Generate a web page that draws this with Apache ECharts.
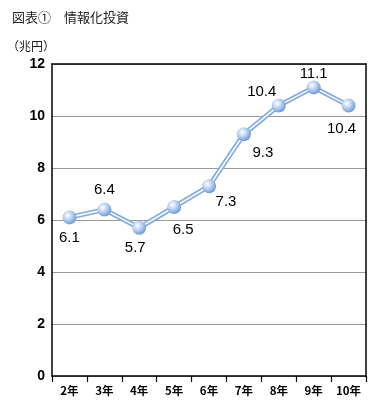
<!DOCTYPE html>
<html><head><meta charset="utf-8">
<script src="https://cdn.jsdelivr.net/npm/echarts@6/dist/echarts.min.js"></script>
<style>html,body{margin:0;padding:0;background:#fff}#c{width:386px;height:406px}</style>
</head><body><div id="c"></div>
<script>
var categories = ['2年','3年','4年','5年','6年','7年','8年','9年','10年'];
var values = [6.1, 6.4, 5.7, 6.5, 7.3, 9.3, 10.4, 11.1, 10.4];
var yTicks = [0, 2, 4, 6, 8, 10, 12];
var labelOffsets = [[0,20],[0,-20],[-4,20],[9,23],[17,16],[19,19],[-17,-14],[0,-14],[-7,23]];

var chart = echarts.init(document.getElementById('c'), null, {renderer:'canvas'});
var font = '"Liberation Sans", Arial, sans-serif';
var cjk = '"Noto Sans CJK JP", sans-serif';
chart.setOption({
  animation:false,
  backgroundColor:'#fff',
  title:[
    {text:'図表①　情報化投資', left:7, top:6, textStyle:{fontFamily:cjk, fontSize:13, fontWeight:'normal', color:'#222'}},
    {text:'（兆円）', left:2, top:35, textStyle:{fontFamily:cjk, fontSize:12, fontWeight:'normal', color:'#222'}}
  ],
  grid:{left:52, right:20, top:64, bottom:30},
  xAxis:[
    {type:'category', data:categories, boundaryGap:true, position:'bottom',
      axisLine:{show:true, onZero:false, lineStyle:{color:'#000', width:1.5}},
      axisTick:{show:true, inside:false, length:6, interval:0, lineStyle:{color:'#000', width:1.2}},
      axisLabel:{fontFamily:cjk, fontWeight:'bold', fontSize:11.5, color:'#000', margin:9, interval:0}
    },
    {type:'category', data:categories, position:'top',
      axisLine:{show:true, onZero:false, lineStyle:{color:'#000', width:1.5}},
      axisTick:{show:false}, axisLabel:{show:false}}
  ],
  yAxis:[
    {type:'value', min:yTicks[0], max:yTicks[yTicks.length-1], interval:2, position:'left',
      axisLine:{show:true, lineStyle:{color:'#000', width:1.5}},
      axisTick:{show:false},
      axisLabel:{fontFamily:font, fontWeight:'bold', fontSize:14, color:'#000', margin:7},
      splitLine:{lineStyle:{color:'#999', width:1}}
    },
    {type:'value', min:yTicks[0], max:yTicks[yTicks.length-1], interval:2, position:'right',
      axisLine:{show:true, lineStyle:{color:'#000', width:1.5}},
      axisTick:{show:false}, axisLabel:{show:false}, splitLine:{show:false}}
  ],
  series:[
    {type:'line', data:values, symbol:'none', silent:true,
      lineStyle:{color:'#86acdf', width:5}, z:2},
    {type:'line', data:values.map(function(v,i){
        return {value:v, label:{offset:labelOffsets[i]}};
      }), z:3,
      lineStyle:{color:'#f4f8ff', width:1.6},
      symbol:'circle', symbolSize:14,
      itemStyle:{color:{type:'radial', x:0.38, y:0.35, r:0.75, colorStops:[
        {offset:0, color:'#ffffff'},{offset:0.45, color:'#b7cff0'},{offset:1, color:'#5a8ad0'}]},
        borderWidth:0},
      label:{show:true, position:'inside', fontFamily:font, fontSize:15, color:'#000',
        formatter:function(p){return p.value.toFixed(1);}}
    }
  ]
});
</script></body></html>
